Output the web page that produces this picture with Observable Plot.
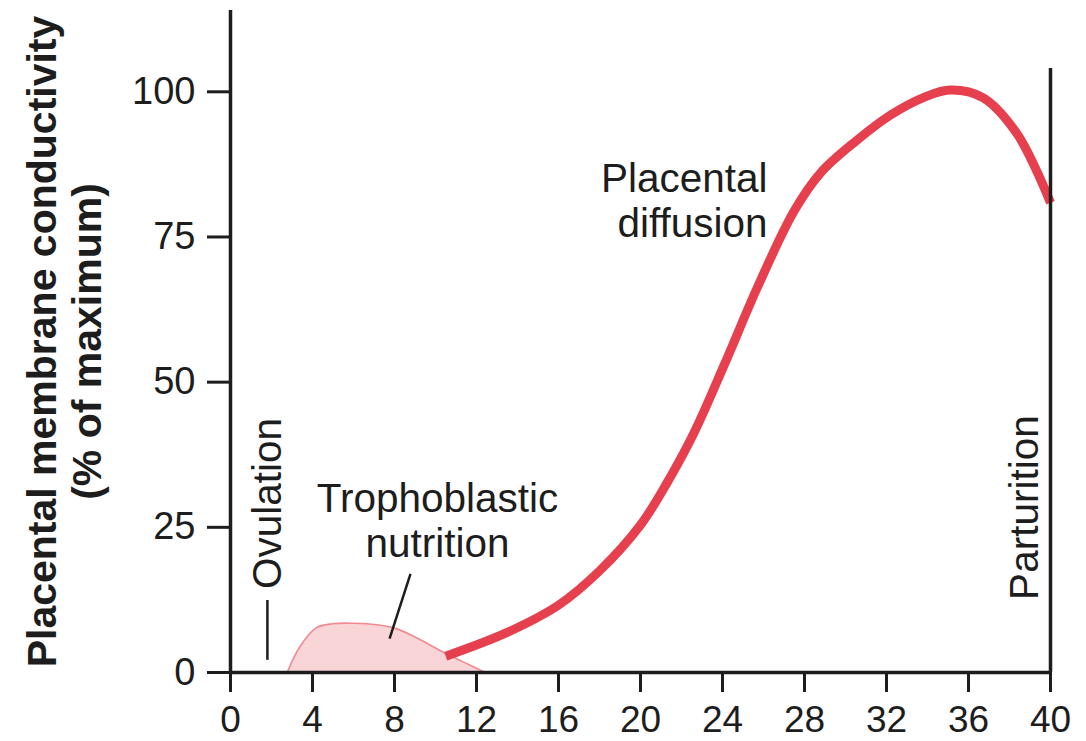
<!DOCTYPE html>
<html>
<head>
<meta charset="utf-8">
<script src="https://cdn.jsdelivr.net/npm/d3@7"></script>
<script src="https://cdn.jsdelivr.net/npm/@observablehq/plot@0.6"></script>
<style>
  html, body { margin: 0; padding: 0; background: #fff; }
  #chart { width: 1086px; height: 741px; }
</style>
</head>
<body>
<div id="chart"></div>
<script>
// Placental diffusion curve (weeks of gestation vs % of maximum conductivity)
const diffusionWeeks = [10.5, 13.5, 16.0, 18.0, 20.0, 21.3, 22.6, 24.1, 25.7, 27.5, 28.8, 30.5, 32.2, 33.8, 35.1, 36.7, 38.4, 40];
const diffusionValues = [2.8, 6.9, 11.6, 17.5, 25.4, 32.7, 41.2, 53.1, 66.3, 79.5, 86.1, 91.5, 96.0, 99.0, 100.3, 99.0, 92.6, 80.9];

// Trophoblastic nutrition area
const trophoWeeks = [2.8, 3.4, 4.2, 5.0, 6.0, 6.7, 8.0, 9.1, 10.2, 11.4, 12.4];
const trophoValues = [0, 4.3, 7.6, 8.3, 8.4, 8.3, 7.6, 5.9, 3.8, 1.7, 0];

// Tick labels
const xTicks = [0, 4, 8, 12, 16, 20, 24, 28, 32, 36, 40];
const yTicks = [0, 25, 50, 75, 100];

const yLabelLine1 = "Placental membrane conductivity";
const yLabelLine2 = "(% of maximum)";

const diffusion = diffusionWeeks.map((w, i) => ({week: w, value: diffusionValues[i]}));
const tropho = trophoWeeks.map((w, i) => ({week: w, value: trophoValues[i]}));

const ink = "#1d1d1d";
const font = "'Liberation Sans', Arial, Helvetica, sans-serif";

const chart = Plot.plot({
  width: 1086,
  height: 741,
  marginLeft: 230,
  marginRight: 36,
  marginTop: 10,
  marginBottom: 69,
  x: {domain: [0, 40], axis: null},
  y: {domain: [0, 114], axis: null},
  style: {fontFamily: font, color: ink, background: "#fff"},
  marks: [
    Plot.areaY(tropho, {x: "week", y: "value", fill: "#f9d5d8", stroke: "#f18a90", strokeWidth: 1.6, curve: "catmull-rom"}),
    Plot.line(diffusion, {x: "week", y: "value", stroke: "#e6404f", strokeWidth: 9, curve: "catmull-rom", strokeLinecap: "butt"}),
    Plot.axisX(xTicks, {tickSize: 20, tickPadding: 13, fontSize: 37, strokeWidth: 3, stroke: ink, fill: ink, label: null}),
    Plot.axisY(yTicks, {tickSize: 23, tickPadding: 12, fontSize: 38, strokeWidth: 3, stroke: ink, fill: ink, label: null}),
    Plot.ruleX([0], {y1: 0, y2: 114, stroke: ink, strokeWidth: 3.5}),
    Plot.ruleY([0], {x1: 0, x2: 40, stroke: ink, strokeWidth: 3.5}),
    Plot.ruleX([40], {y1: 0, y2: 104, stroke: ink, strokeWidth: 3.5}),
    Plot.ruleX([1.8], {y1: 2.1, y2: 12.4, stroke: ink, strokeWidth: 2.5}),
    Plot.link([0], {x1: () => 8.78, y1: () => 17, x2: () => 7.76, y2: () => 5.85, stroke: ink, strokeWidth: 2.5}),
    Plot.text([yLabelLine1], {frameAnchor: "left", dx: -175, rotate: -90, textAnchor: "middle", lineAnchor: "bottom", fontSize: 41, fontWeight: "bold", fill: ink}),
    Plot.text([yLabelLine2], {frameAnchor: "left", dx: -130, rotate: -90, textAnchor: "middle", lineAnchor: "bottom", fontSize: 41, fontWeight: "bold", fill: ink}),
    Plot.text(["Ovulation"], {x: () => 1.85, y: () => 29.1, rotate: -90, lineAnchor: "middle", textAnchor: "middle", fontSize: 40.5, fill: ink}),
    Plot.text(["Parturition"], {x: () => 38.78, y: () => 28.4, rotate: -90, lineAnchor: "middle", textAnchor: "middle", fontSize: 40.5, fill: ink}),
    Plot.text(["Placental\ndiffusion"], {x: () => 26.2, y: () => 81.3, textAnchor: "end", lineAnchor: "middle", lineHeight: 1.1, fontSize: 40.5, fill: ink}),
    Plot.text(["Trophoblastic\nnutrition"], {x: () => 10.1, y: () => 26.2, textAnchor: "middle", lineAnchor: "middle", lineHeight: 1.1, fontSize: 40.5, fill: ink})
  ]
});
document.getElementById("chart").appendChild(chart);
</script>
</body>
</html>
